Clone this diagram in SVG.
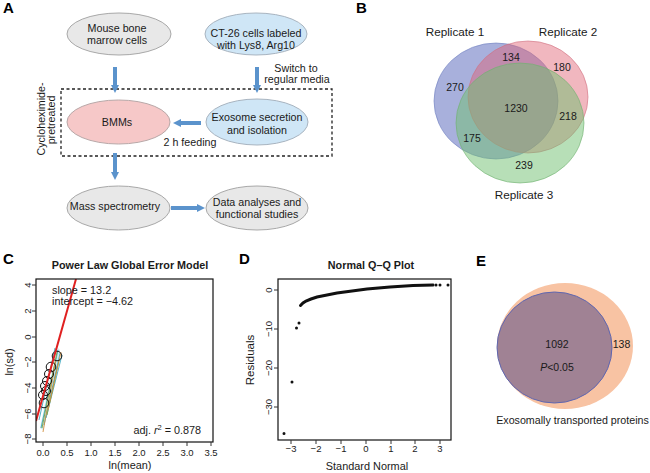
<svg xmlns="http://www.w3.org/2000/svg" width="650" height="473" viewBox="0 0 650 473">
<defs>
<style>
text{font-family:"Liberation Sans",Arial,sans-serif;fill:#1a1a1a}
.lbl{font-size:15px;font-weight:bold;fill:#000}
.t{font-size:10.7px;text-anchor:middle}
.gray{fill:#e8e8e8;stroke:#a8a8a8;stroke-width:1}
.blue{fill:#cfe6f6;stroke:#a8b4c0;stroke-width:1}
.pink{fill:#f6c8c8;stroke:#b8a8a8;stroke-width:1}
.arr{stroke:#5b93cc;stroke-width:4;fill:none;marker-end:url(#ah)}
.rep{font-size:11.7px;text-anchor:middle}
.num{font-size:10.5px;text-anchor:middle}
.tick{font-size:9.5px;text-anchor:middle;fill:#333}
.axl{font-size:10.9px;text-anchor:middle}
.ttl{font-size:10.8px;font-weight:bold;text-anchor:middle}
.box{fill:none;stroke:#111;stroke-width:1.2}
.tk{stroke:#333;stroke-width:1}
.ring{fill:none;stroke:#111;stroke-width:1}
</style>
<marker id="ah" viewBox="0 0 8 8" refX="1" refY="4" markerWidth="8" markerHeight="8" markerUnits="userSpaceOnUse" orient="auto">
<path d="M0,0 L8,4 L0,8 z" fill="#5b93cc"/>
</marker>
<clipPath id="cclip"><rect x="36" y="279" width="177" height="163"/></clipPath>
</defs>

<!-- Panel A -->
<text class="lbl" x="3" y="13">A</text>
<rect x="61" y="89" width="271" height="67" fill="none" stroke="#222" stroke-width="1.3" stroke-dasharray="3,2.5"/>
<text class="t" transform="translate(45,119) rotate(-90)">Cycloheximide-</text>
<text class="t" transform="translate(55,120) rotate(-90)">pretreated</text>

<g id="connectors">
<path class="arr" d="M115,67 V86"/>
<path class="arr" d="M257,67 V86"/>
<path class="arr" d="M201,123 H180"/>
<path class="arr" d="M115,153 V173"/>
<path class="arr" d="M171,208 H198"/>
</g>
<text class="t" x="296" y="71.5">Switch to</text>
<text class="t" x="297" y="83">regular media</text>
<text class="t" x="190" y="146">2 h feeding</text>

<g id="mouse">
<ellipse class="gray" cx="119" cy="34" rx="52" ry="21"/>
<text class="t" x="117" y="32">Mouse bone</text>
<text class="t" x="117" y="44">marrow cells</text>
</g>
<g id="ct26">
<ellipse class="blue" cx="256" cy="34" rx="51" ry="21"/>
<text class="t" x="256" y="37">CT-26 cells labeled</text>
<text class="t" x="256" y="49">with Lys8, Arg10</text>
</g>
<g id="bmms">
<ellipse class="pink" cx="118.5" cy="122" rx="51.5" ry="22"/>
<text class="t" x="117" y="126">BMMs</text>
</g>
<g id="exosome">
<ellipse class="blue" cx="257" cy="122" rx="51" ry="23"/>
<text class="t" x="257" y="121">Exosome secretion</text>
<text class="t" x="257" y="134">and isolation</text>
</g>
<g id="massspec">
<ellipse class="gray" cx="118.5" cy="208" rx="51.5" ry="22"/>
<text class="t" x="115" y="210">Mass spectrometry</text>
</g>
<g id="data">
<ellipse class="gray" cx="257" cy="208" rx="51" ry="22"/>
<text class="t" x="257" y="206">Data analyses and</text>
<text class="t" x="257" y="218">functional studies</text>
</g>

<!-- Panel B -->
<text class="lbl" x="356" y="13">B</text>
<text class="rep" x="455" y="36">Replicate 1</text>
<text class="rep" x="568" y="36">Replicate 2</text>
<ellipse cx="496" cy="101" rx="62" ry="58" fill="#6070c0" fill-opacity="0.55" stroke="#7080c0" stroke-opacity="0.6"/>
<ellipse cx="528" cy="97" rx="60" ry="56" fill="#e06070" fill-opacity="0.45" stroke="#d07080" stroke-opacity="0.6"/>
<ellipse cx="520" cy="123" rx="64" ry="60" fill="#70c070" fill-opacity="0.5" stroke="#70b070" stroke-opacity="0.6"/>
<text class="num" x="511" y="61">134</text>
<text class="num" x="562" y="71">180</text>
<text class="num" x="455" y="91">270</text>
<text class="num" x="516" y="112">1230</text>
<text class="num" x="568" y="120">218</text>
<text class="num" x="472" y="142">175</text>
<text class="num" x="524" y="169">239</text>
<text class="rep" x="524" y="199">Replicate 3</text>

<!-- Panel C -->
<text class="lbl" x="3" y="264">C</text>
<text class="ttl" x="130" y="269">Power Law Global Error Model</text>
<g clip-path="url(#cclip)">
<path d="M40,428 L50,380 L58,348 L60,350 L52,388 L43,430 z" fill="#60c0d0" fill-opacity="0.3"/>
<path d="M41,428 L58,350 M44,425 L60,353 M39,420 L55,348 M46,418 L62,355" stroke="#40a8c0" stroke-width="0.9" fill="none"/>
<path d="M42,428 L57,352 M47,415 L59,360" stroke="#80a040" stroke-width="0.9" fill="none"/>
<path d="M43,432 L56,360 M48,410 L61,352" stroke="#d09040" stroke-width="0.9" fill="none"/>
<circle class="ring" cx="57" cy="356" r="4.8"/>
<circle class="ring" cx="51" cy="367" r="4.8"/>
<circle class="ring" cx="49" cy="374" r="4.5"/>
<circle class="ring" cx="47" cy="381" r="4.5"/>
<circle class="ring" cx="45" cy="386" r="4.5"/>
<circle class="ring" cx="46" cy="391" r="4.5"/>
<circle class="ring" cx="43" cy="395" r="4.5"/>
<circle class="ring" cx="44" cy="403" r="4.8"/>
<path d="M36,421 L76,279" stroke="#e02020" stroke-width="2" fill="none"/>
</g>
<rect class="box" x="36" y="279" width="177" height="163"/>
<path class="tk" d="M32,285 H36 M32,311 H36 M32,337 H36 M32,362 H36 M32,388 H36 M32,414 H36 M32,439 H36 M43,442 V446 M67,442 V446 M91,442 V446 M115,442 V446 M139,442 V446 M163,442 V446 M187,442 V446 M211,442 V446"/>
<g class="tick">
<text transform="translate(31,285) rotate(-90)">4</text>
<text transform="translate(31,311) rotate(-90)">2</text>
<text transform="translate(31,337) rotate(-90)">0</text>
<text transform="translate(31,362) rotate(-90)">−2</text>
<text transform="translate(31,388) rotate(-90)">−4</text>
<text transform="translate(31,414) rotate(-90)">−6</text>
<text transform="translate(31,439) rotate(-90)">−8</text>
<text x="43" y="456">0.0</text>
<text x="67" y="456">0.5</text>
<text x="91" y="456">1.0</text>
<text x="115" y="456">1.5</text>
<text x="139" y="456">2.0</text>
<text x="163" y="456">2.5</text>
<text x="187" y="456">3.0</text>
<text x="211" y="456">3.5</text>
</g>
<text class="axl" x="130" y="469">ln(mean)</text>
<text class="axl" transform="translate(13,362) rotate(-90)">ln(sd)</text>
<text x="52" y="294" style="font-size:10.8px">slope = 13.2</text>
<text x="52" y="305" style="font-size:10.8px">intercept = −4.62</text>
<text x="201" y="434" style="font-size:10.8px;text-anchor:end">adj. <tspan font-style="italic">r</tspan><tspan dy="-4" font-size="7.5px">2</tspan><tspan dy="4"> = 0.878</tspan></text>

<!-- Panel D -->
<text class="lbl" x="239" y="264">D</text>
<text class="ttl" x="371" y="269">Normal Q–Q Plot</text>
<rect class="box" x="278" y="279" width="173" height="161"/>
<path class="tk" d="M274,290 H278 M274,329 H278 M274,368 H278 M274,407 H278 M291,440 V444 M316,440 V444 M341,440 V444 M366,440 V444 M391,440 V444 M415,440 V444 M440,440 V444"/>
<g class="tick">
<text transform="translate(272,290) rotate(-90)">0</text>
<text transform="translate(272,329) rotate(-90)">−10</text>
<text transform="translate(272,368) rotate(-90)">−20</text>
<text transform="translate(272,407) rotate(-90)">−30</text>
<text x="291" y="452">−3</text>
<text x="316" y="452">−2</text>
<text x="341" y="452">−1</text>
<text x="366" y="452">0</text>
<text x="391" y="452">1</text>
<text x="415" y="452">2</text>
<text x="440" y="452">3</text>
</g>
<text class="axl" x="367" y="470">Standard Normal</text>
<text class="axl" style="font-size:11.5px" transform="translate(254,360) rotate(-90)">Residuals</text>
<path d="M300.5,305.5 L303,303 L306,301 L311,299 L317,297 L327,295 L337,293 L352,291 L367,289 L390,287 L413,285.5 L433,285" stroke="#111" stroke-width="3" fill="none" stroke-linecap="round"/>
<path d="M284,433.5 h0 M292,382 h0 M296.5,328 h0 M299,323 h0 M436,285 h0 M440,285 h0 M448,285 h0" stroke="#111" stroke-width="3" stroke-linecap="round"/>

<!-- Panel E -->
<text class="lbl" x="476" y="266">E</text>
<ellipse cx="565" cy="346" rx="68" ry="63" fill="#f8c3a3"/>
<ellipse cx="554.5" cy="347.5" rx="57.5" ry="55.5" fill="#a08294" stroke="#5f66b0" stroke-width="1"/>
<text class="num" x="557" y="348">1092</text>
<text class="num" x="557" y="371"><tspan font-style="italic">P</tspan>&lt;0.05</text>
<text class="num" x="621.5" y="348">138</text>
<text class="t" x="572.5" y="424">Exosomally transported proteins</text>
</svg>
